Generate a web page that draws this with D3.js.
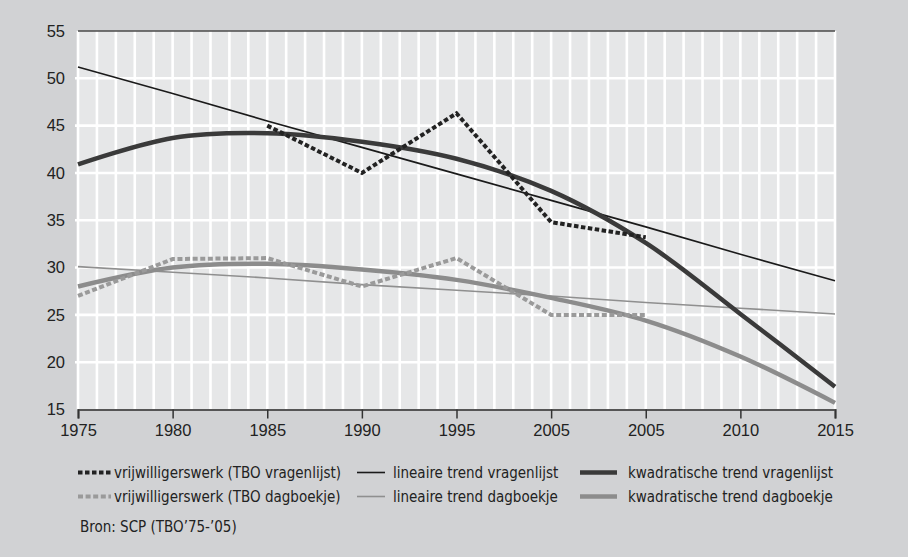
<!DOCTYPE html>
<html>
<head>
<meta charset="utf-8">
<script src="https://cdn.jsdelivr.net/npm/d3@7"></script>
<style>
  html, body { margin: 0; padding: 0; background: #d1d2d4; }
  svg { display: block; }
</style>
</head>
<body>
<svg id="chart" width="908" height="557"></svg>
<script>
// ---- data ----
const xLabels = ["1975", "1980", "1985", "1990", "1995", "2005", "2005", "2010", "2015"];
const yTicks = [15, 20, 25, 30, 35, 40, 45, 50, 55];

// values by label position (index into xLabels)
const vragenlijstIdx = [2, 3, 4, 5, 6];
const vragenlijst = [45, 40, 46.3, 34.8, 33.2];
const dagboekjeIdx = [0, 1, 2, 3, 4, 5, 6];
const dagboekje = [27, 30.9, 31, 28, 31, 25, 25];

const trendIdx = [0, 1, 2, 3, 4, 5, 6, 7, 8];
const linVragenlijst = [51.2, 48.4, 45.5, 42.7, 39.9, 37.1, 34.3, 31.4, 28.6];
const linDagboekje = [30.1, 29.5, 28.9, 28.2, 27.6, 27.0, 26.3, 25.7, 25.1];
const kwadVragenlijst = [40.9, 43.7, 44.2, 43.3, 41.5, 38.1, 32.6, 25.1, 17.4];
const kwadDagboekje = [28.0, 30.0, 30.4, 29.8, 28.7, 26.8, 24.4, 20.6, 15.7];

const legendLabels = [
  "vrijwilligerswerk (TBO vragenlijst)",
  "vrijwilligerswerk (TBO dagboekje)",
  "lineaire trend vragenlijst",
  "lineaire trend dagboekje",
  "kwadratische trend vragenlijst",
  "kwadratische trend dagboekje"
];
const sourceText = "Bron: SCP (TBO\u201975-\u201905)";

// ---- layout ----
const svg = d3.select("#chart");
const L = 78, R = 835, T = 31, B = 409.5;
const x = d3.scaleLinear().domain([0, xLabels.length - 1]).range([L, R]);
const y = d3.scaleLinear().domain([15, 55]).range([B, T]);
const legendFont = "'DejaVu Sans Condensed', 'DejaVu Sans', sans-serif";
const legendSize = 15;

svg.append("rect").attr("width", 908).attr("height", 557).attr("fill", "#d1d2d4");
svg.append("rect").attr("x", L).attr("y", T).attr("width", R - L).attr("height", B - T).attr("fill", "#e6e7e8");

// vertical grid (every year)
const minor = d3.range(0, (xLabels.length - 1) * 5 + 1).map(d => d / 5);
svg.append("g").selectAll("line").data(minor).join("line")
  .attr("x1", d => x(d)).attr("x2", d => x(d))
  .attr("y1", T).attr("y2", B)
  .attr("stroke", "#ffffff").attr("stroke-width", 2.6);

// horizontal grid
svg.append("g").selectAll("line").data(yTicks.filter(v => v > 15 && v < 55)).join("line")
  .attr("x1", L - 3).attr("x2", R + 1)
  .attr("y1", d => y(d)).attr("y2", d => y(d))
  .attr("stroke", "#ffffff").attr("stroke-width", 2.6);

// top border
svg.append("line").attr("x1", L).attr("x2", R).attr("y1", T).attr("y2", T)
  .attr("stroke", "#4a4a4a").attr("stroke-width", 1.5);

// y axis labels
const yAxis = d3.axisLeft(y).tickValues(yTicks).tickSize(0).tickPadding(13);
const gy = svg.append("g").attr("transform", `translate(${L},0)`).call(yAxis);
gy.select(".domain").remove();
gy.selectAll("text").attr("font-family", "'Liberation Sans', Arial, sans-serif")
  .attr("font-size", 16.5).attr("fill", "#222");

// x axis
const xAxis = d3.axisBottom(x).tickValues(d3.range(xLabels.length))
  .tickFormat(i => xLabels[i]).tickSize(9).tickPadding(6);
const gx = svg.append("g").attr("transform", `translate(0,${B})`).call(xAxis);
gx.select(".domain").attr("stroke", "#555").attr("stroke-width", 2.2);
gx.selectAll(".tick line").attr("stroke", "#333").attr("stroke-width", 1.5);
gx.selectAll("text").attr("font-family", "'Liberation Sans', Arial, sans-serif")
  .attr("font-size", 16.5).attr("fill", "#222");

// lines
const straight = d3.line().x(d => x(d[0])).y(d => y(d[1]));
const smooth = d3.line().x(d => x(d[0])).y(d => y(d[1])).curve(d3.curveCatmullRom.alpha(0.5));
const zip = (a, b) => a.map((v, i) => [v, b[i]]);

const styles = [
  { color: "#8f8f8f", width: 1.6, dash: null },          // lin dagboekje
  { color: "#1a1a1a", width: 1.6, dash: null },          // lin vragenlijst
  { color: "#8c8c8c", width: 4.5, dash: null },          // kwad dagboekje
  { color: "#3a3a3a", width: 4.5, dash: null },          // kwad vragenlijst
  { color: "#9a9a9a", width: 4, dash: "5,2.6" },         // dagboekje
  { color: "#222222", width: 4, dash: "4.5,2.5" }        // vragenlijst
];
const series = [
  { d: zip(trendIdx, linDagboekje), gen: straight, s: styles[0] },
  { d: zip(trendIdx, linVragenlijst), gen: straight, s: styles[1] },
  { d: zip(trendIdx, kwadDagboekje), gen: smooth, s: styles[2] },
  { d: zip(trendIdx, kwadVragenlijst), gen: smooth, s: styles[3] },
  { d: zip(dagboekjeIdx, dagboekje), gen: straight, s: styles[4] },
  { d: zip(vragenlijstIdx, vragenlijst), gen: straight, s: styles[5] }
];
svg.append("g").selectAll("path").data(series).join("path")
  .attr("d", d => d.gen(d.d))
  .attr("fill", "none")
  .attr("stroke", d => d.s.color)
  .attr("stroke-width", d => d.s.width)
  .attr("stroke-dasharray", d => d.s.dash)
  .attr("stroke-linejoin", "miter");

// legend
const legendItems = [
  { label: legendLabels[0], s: styles[5], col: 0, row: 0 },
  { label: legendLabels[1], s: styles[4], col: 0, row: 1 },
  { label: legendLabels[2], s: styles[1], col: 1, row: 0 },
  { label: legendLabels[3], s: styles[0], col: 1, row: 1 },
  { label: legendLabels[4], s: styles[3], col: 2, row: 0 },
  { label: legendLabels[5], s: styles[2], col: 2, row: 1 }
];
const colX = [[78, 111, 114], [357, 385, 393], [580, 617, 628]];
const rowY = [478, 502];
const lg = svg.append("g").selectAll("g").data(legendItems).join("g");
lg.append("line")
  .attr("x1", d => colX[d.col][0]).attr("x2", d => colX[d.col][1])
  .attr("y1", d => rowY[d.row] - 5.5).attr("y2", d => rowY[d.row] - 5.5)
  .attr("stroke", d => d.s.color)
  .attr("stroke-width", d => d.s.width)
  .attr("stroke-dasharray", d => d.s.dash);
lg.append("text")
  .attr("x", d => colX[d.col][2]).attr("y", d => rowY[d.row])
  .attr("font-family", legendFont)
  .attr("font-size", legendSize).attr("fill", "#222")
  .text(d => d.label);

svg.append("text").attr("x", 80).attr("y", 532)
  .attr("font-family", legendFont)
  .attr("font-size", legendSize).attr("fill", "#222")
  .text(sourceText);
</script>
</body>
</html>
